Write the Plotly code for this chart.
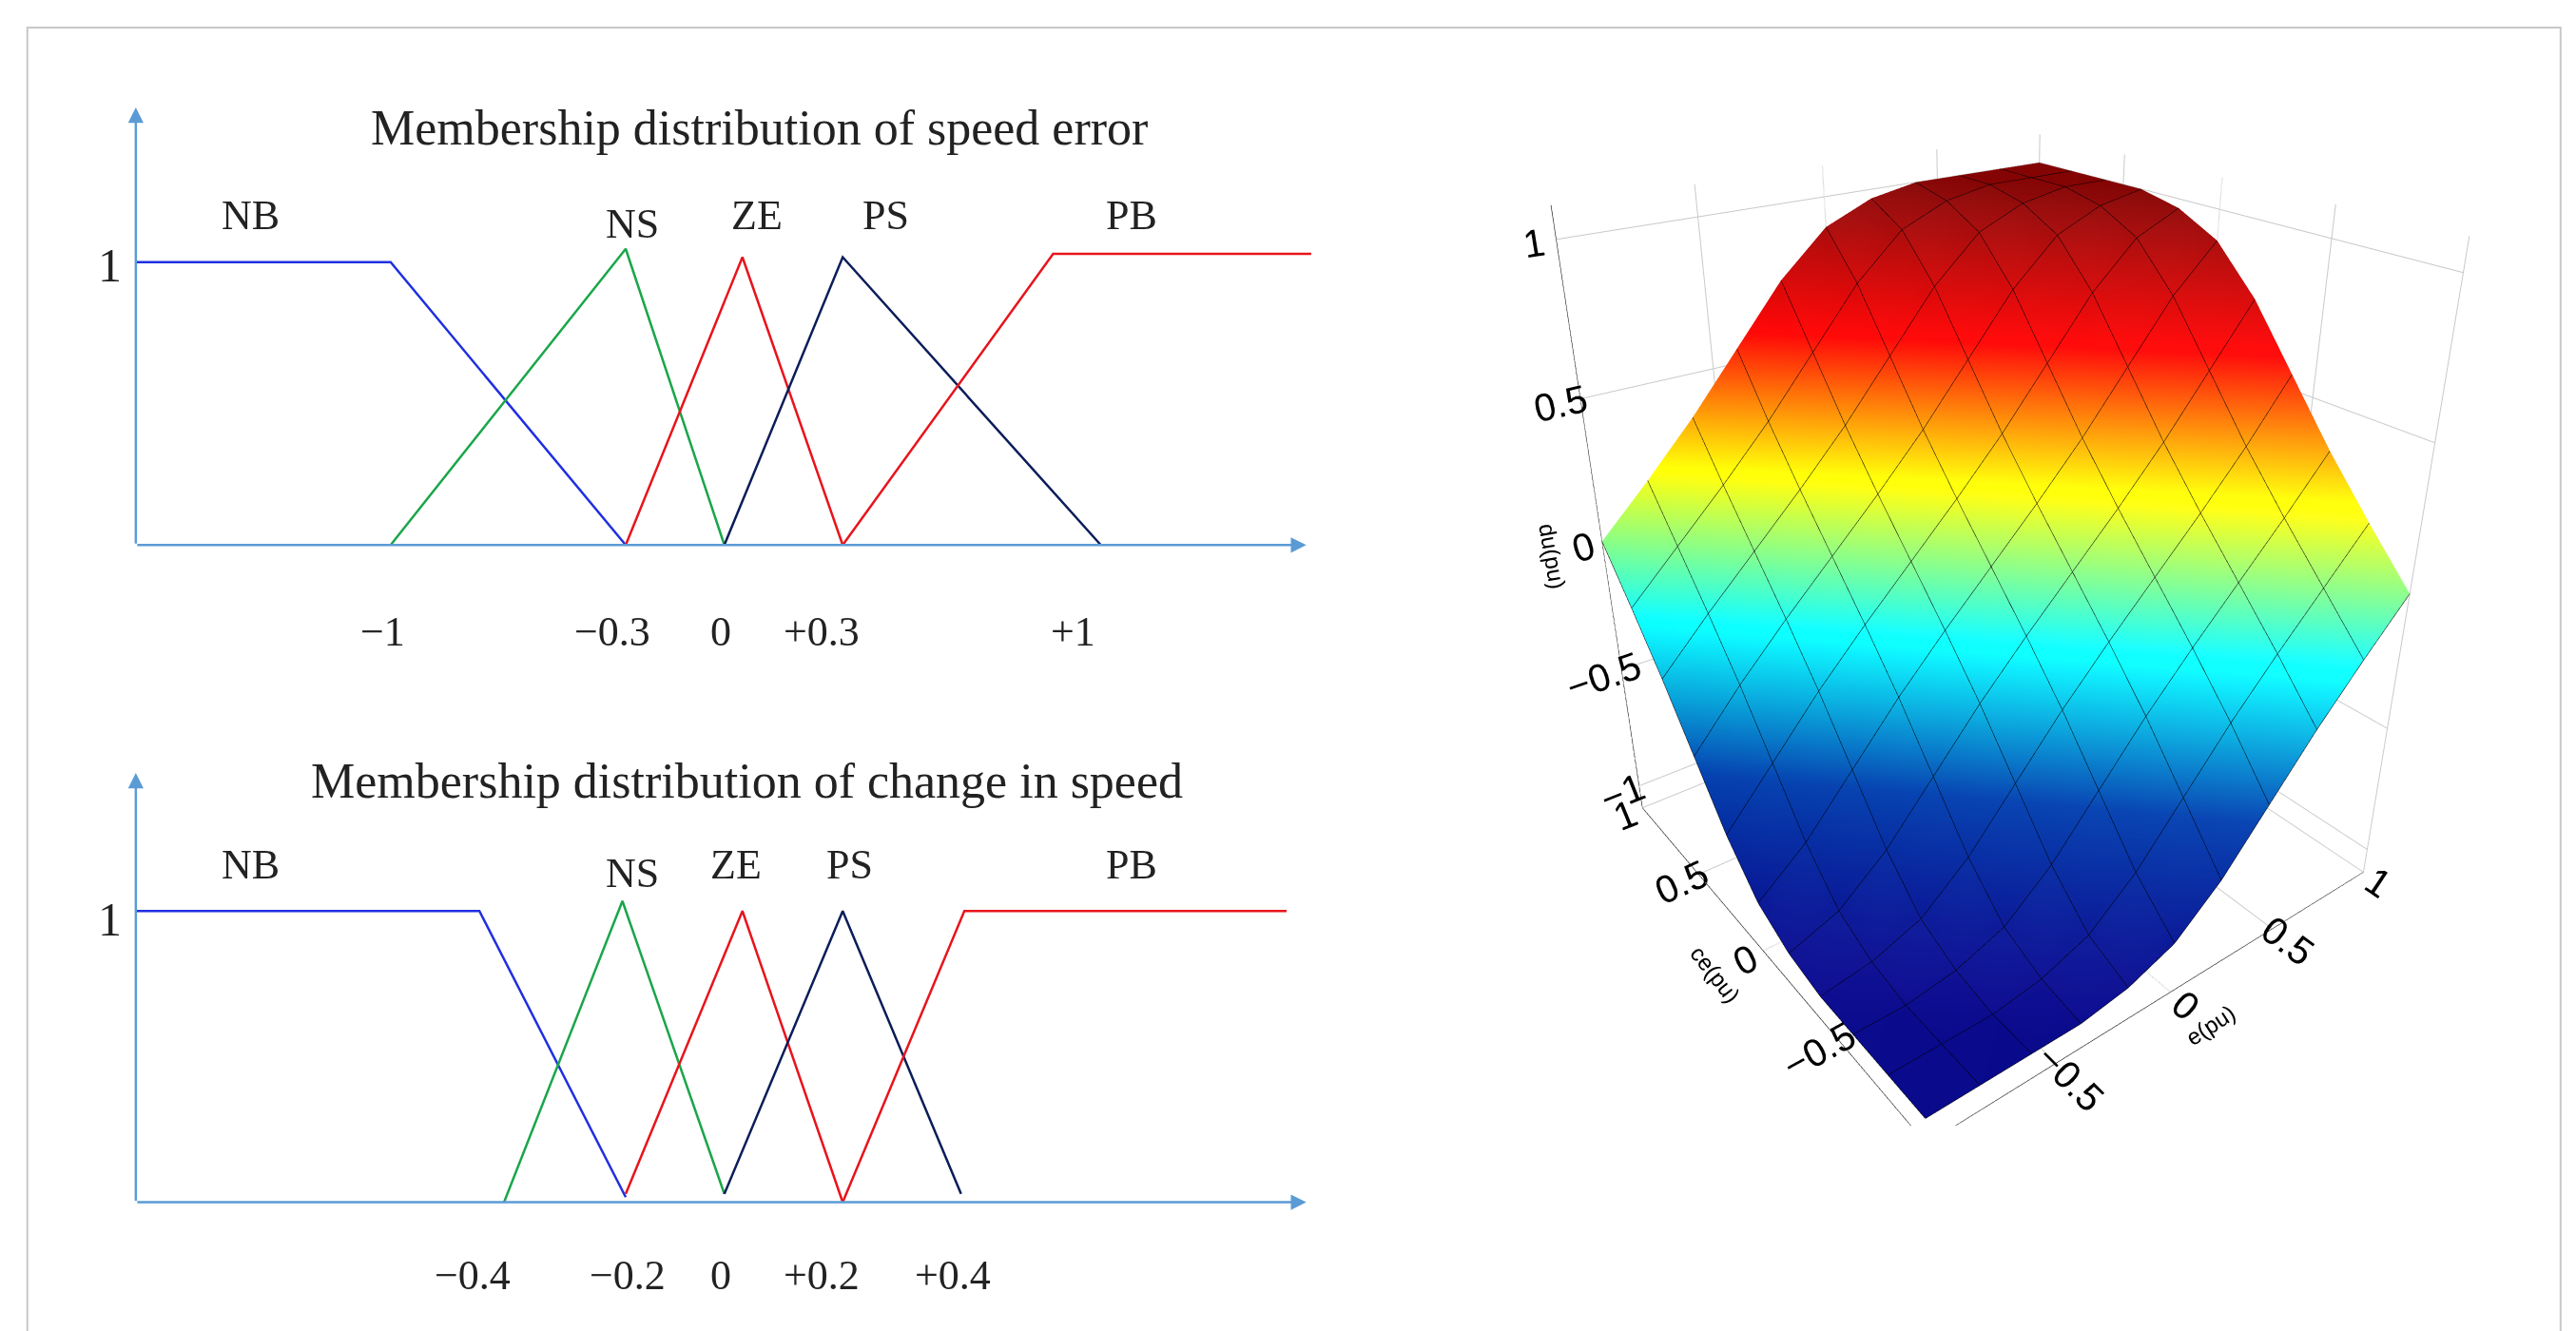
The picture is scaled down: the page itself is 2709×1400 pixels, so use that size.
import plotly.graph_objects as go

# schematic membership breakpoints (positions as drawn, in picture units)
top_nb_x = [78, 233, 376]; top_nb_y = [153, 153, 323]
top_ns_x = [233, 376, 436]; top_ns_y = [323, 145, 323]
top_ze_x = [376, 447, 508]; top_ze_y = [323, 150, 323]
top_ps_x = [436, 508, 665]; top_ps_y = [323, 150, 323]
top_pb_x = [508, 636, 793]; top_pb_y = [323, 148, 148]
top_tick_x = [228, 368, 434, 495, 648]
top_tick_txt = ["\u22121", "\u22120.3", "0", "+0.3", "+1"]

bot_nb_x = [78, 287, 376]; bot_nb_y = [543, 543, 715]
bot_ns_x = [302, 374, 436]; bot_ns_y = [718, 537, 713]
bot_ze_x = [376, 447, 508]; bot_ze_y = [713, 543, 718]
bot_ps_x = [436, 508, 580]; bot_ps_y = [713, 543, 713]
bot_pb_x = [508, 582, 778]; bot_pb_y = [718, 543, 543]
bot_tick_x = [283, 377, 434, 495, 575]
bot_tick_txt = ["\u22120.4", "\u22120.2", "0", "+0.2", "+0.4"]

set_names = ["NB", "NS", "ZE", "PS", "PB"]
top_name_x = [148, 380, 456, 534, 684]
bot_name_x = [148, 380, 443, 512, 684]

grid = [-1, -0.8, -0.6, -0.4, -0.2, 0, 0.2, 0.4, 0.6, 0.8, 1]
du = [
    [-1, -1, -1, -1, -0.97, -0.9, -0.75, -0.55, -0.35, -0.17, 0],
    [-1, -1, -1, -0.97, -0.9, -0.75, -0.55, -0.35, -0.17, 0, 0.17],
    [-1, -1, -0.97, -0.9, -0.75, -0.55, -0.35, -0.17, 0, 0.17, 0.35],
    [-1, -0.97, -0.9, -0.75, -0.55, -0.35, -0.17, 0, 0.17, 0.35, 0.55],
    [-0.97, -0.9, -0.75, -0.55, -0.35, -0.17, 0, 0.17, 0.35, 0.55, 0.75],
    [-0.9, -0.75, -0.55, -0.35, -0.17, 0, 0.17, 0.35, 0.55, 0.75, 0.9],
    [-0.75, -0.55, -0.35, -0.17, 0, 0.17, 0.35, 0.55, 0.75, 0.9, 0.97],
    [-0.55, -0.35, -0.17, 0, 0.17, 0.35, 0.55, 0.75, 0.9, 0.97, 1],
    [-0.35, -0.17, 0, 0.17, 0.35, 0.55, 0.75, 0.9, 0.97, 1, 1],
    [-0.17, 0, 0.17, 0.35, 0.55, 0.75, 0.9, 0.97, 1, 1, 1],
    [0, 0.17, 0.35, 0.55, 0.75, 0.9, 0.97, 1, 1, 1, 1],
]

colors = ["#1f2fe0", "#1aa64a", "#e8141c", "#0b1d5a", "#e8141c"]
arrow_col = "#5b9bd5"
serif = "Liberation Serif"

fig = go.Figure()

top_sets = [(top_nb_x, top_nb_y), (top_ns_x, top_ns_y), (top_ze_x, top_ze_y),
            (top_ps_x, top_ps_y), (top_pb_x, top_pb_y)]
bot_sets = [(bot_nb_x, bot_nb_y), (bot_ns_x, bot_ns_y), (bot_ze_x, bot_ze_y),
            (bot_ps_x, bot_ps_y), (bot_pb_x, bot_pb_y)]
for sets in (top_sets, bot_sets):
    for (xs, ys), c in zip(sets, colors):
        fig.add_trace(go.Scatter(x=xs, y=ys, mode="lines", line=dict(color=c, width=2.5),
                                 showlegend=False, hoverinfo="skip"))

def annot(x, y, text, size=44):
    fig.add_annotation(x=x, y=y, text=text, showarrow=False, xref="x", yref="y",
                       font=dict(family=serif, size=size, color="#222"))

def arrow(x0, y0, x1, y1):
    fig.add_annotation(x=x1, y=y1, ax=x0, ay=y0, xref="x", yref="y", axref="x", ayref="y",
                       text="", showarrow=True, arrowhead=2, arrowsize=1.3, arrowwidth=2.5,
                       arrowcolor=arrow_col)

for base, top in ((323, 60), (718, 460)):
    arrow(78, base, 790, base)
    arrow(78, base, 78, top)

annot(457, 72, "Membership distribution of speed error", 52)
annot(450, 465, "Membership distribution of change in speed", 52)
annot(62, 155, "1", 50)
annot(62, 548, "1", 50)
for n, x in zip(set_names, top_name_x):
    annot(x, 125 if n != "NS" else 130, n)
for n, x in zip(set_names, bot_name_x):
    annot(x, 515 if n != "NS" else 520, n)
for t, x in zip(top_tick_txt, top_tick_x):
    annot(x, 375, t)
for t, x in zip(bot_tick_txt, bot_tick_x):
    annot(x, 762, t)

fig.add_shape(type="rect", x0=12, y0=12, x1=1553, y1=797, xref="x", yref="y",
              line=dict(color="#c8c8c8", width=2))

fig.add_trace(go.Surface(
    x=grid, y=grid, z=du, colorscale="Jet", cmin=-1, cmax=1, showscale=False,
    contours=dict(x=dict(show=True, color="black", width=2, start=-1, end=1, size=0.2),
                  y=dict(show=True, color="black", width=2, start=-1, end=1, size=0.2)),
    lighting=dict(ambient=0.7, diffuse=0.5, specular=0.05),
    lightposition=dict(x=-100, y=-300, z=200), scene="scene"))

ax3 = dict(showbackground=False, gridcolor="#c8c8c8", showline=True,
           linecolor="black", tickfont=dict(family="Liberation Sans", size=22, color="black"),
           tickvals=[-1, -0.5, 0, 0.5, 1], ticktext=["\u22121", "\u22120.5", "0", "0.5", "1"])
tfont = dict(family="Liberation Sans", size=24, color="black")
fig.update_layout(
    width=2709, height=1400, paper_bgcolor="white", plot_bgcolor="white",
    margin=dict(l=0, r=0, t=0, b=0),
    xaxis=dict(domain=[0, 1], range=[0, 1567], visible=False, fixedrange=True),
    yaxis=dict(domain=[0, 1], range=[800, 0], visible=False, fixedrange=True),
    scene=dict(
        domain=dict(x=[0.55, 0.99], y=[0.16, 1.0]),
        xaxis=dict(ax3, title=dict(text="e(pu)", font=tfont), range=[-1, 1]),
        yaxis=dict(ax3, title=dict(text="ce(pu)", font=tfont), range=[-1, 1]),
        zaxis=dict(ax3, title=dict(text="du(pu)", font=tfont), range=[-1.1, 1.1]),
        camera=dict(eye=dict(x=-1.25, y=-1.65, z=1.1)),
        aspectmode="manual", aspectratio=dict(x=1, y=1, z=1.2),
    ),
)

fig.write_html("out.html")
